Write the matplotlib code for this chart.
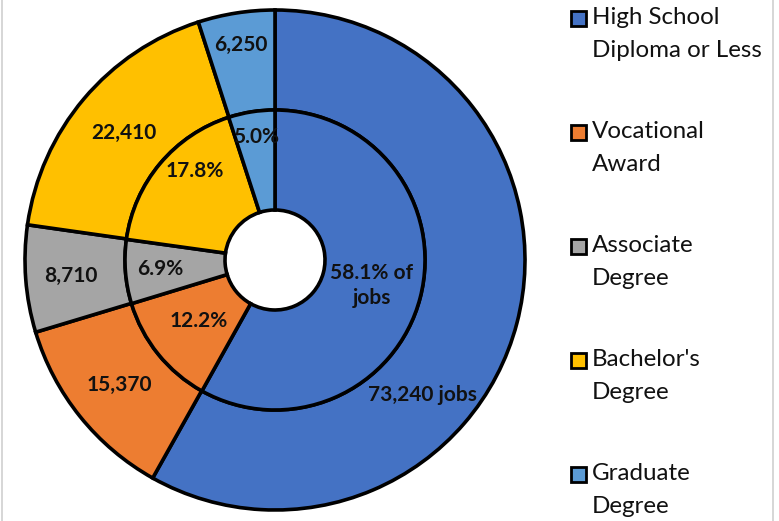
import numpy as np
import matplotlib.pyplot as plt
from matplotlib.patches import Rectangle
from matplotlib.lines import Line2D

# data
categories = ["High School\nDiploma or Less", "Vocational\nAward", "Associate\nDegree",
              "Bachelor's\nDegree", "Graduate\nDegree"]
jobs = [73240, 15370, 8710, 22410, 6250]
shares = [58.1, 12.2, 6.9, 17.8, 5.0]
outer_labels = ["73,240 jobs", "15,370", "8,710", "22,410", "6,250"]
inner_labels = ["58.1% of\njobs", "12.2%", "6.9%", "17.8%", "5.0%"]
colors = ["#4472C4", "#ED7D31", "#A5A5A5", "#FFC000", "#5B9BD5"]

plt.rcParams['font.family'] = ['Lato', 'DejaVu Sans']

fig = plt.figure(figsize=(7.79, 5.21), dpi=100)
ax = fig.add_axes([25 / 779, 11 / 521, 500 / 779, 500 / 521])

edge = dict(edgecolor='black', linewidth=2.6)
ax.pie(jobs, radius=1.0, colors=colors, startangle=90, counterclock=False,
       wedgeprops=dict(width=0.4, **edge))
ax.pie(shares, radius=0.6, colors=colors, startangle=90, counterclock=False,
       wedgeprops=dict(width=0.4, **edge))
ax.set_xlim(-1, 1)
ax.set_ylim(-1, 1)
ax.set_aspect('equal')
ax.axis('off')

# label angles from the data
tot = np.sum(jobs)
ends = 90 - 360 * np.cumsum(jobs) / tot
starts = np.concatenate([[90], ends[:-1]])
mids = np.deg2rad((starts + ends) / 2)

outer_r = [0.8, 0.8, 0.82, 0.79, 0.87]
inner_r = [0.4, 0.39, 0.46, 0.48, 0.5]
outer_shift = [np.deg2rad(-28), 0, 0, 0, 0]   # blue label was moved down in source
inner_shift = [0, 0, 0, np.deg2rad(-8), 0]

lab = dict(ha='center', va='center', fontsize=15, fontweight='bold', color='#111111')
for i in range(len(jobs)):
    a = mids[i] + outer_shift[i]
    ax.text(outer_r[i] * np.cos(a), outer_r[i] * np.sin(a), outer_labels[i], **lab)
    a = mids[i] + inner_shift[i]
    ax.text(inner_r[i] * np.cos(a), inner_r[i] * np.sin(a), inner_labels[i],
            linespacing=1.3, **lab)

# legend, drawn by hand to keep Excel spacing
for i, c in enumerate(categories):
    y = 1 - (18 + 114 * i) / 521
    fig.add_artist(Rectangle((571 / 779, y - 8 / 521), 15 / 779, 15 / 521,
                             transform=fig.transFigure, facecolor=colors[i],
                             edgecolor='black', linewidth=2))
    fig.text(592 / 779, y + 11 / 521, c, ha='left', va='top', fontsize=17.4,
             linespacing=1.72, color='#111111')

# frame pieces visible at the edges
fig.add_artist(Line2D([2 / 779, 2 / 779], [0, 1], color='#D0D0D0', lw=1.2))
fig.add_artist(Line2D([773 / 779, 773 / 779], [0, 1], color='#D0D0D0', lw=1.2))

fig.savefig('out.png', dpi=100)
